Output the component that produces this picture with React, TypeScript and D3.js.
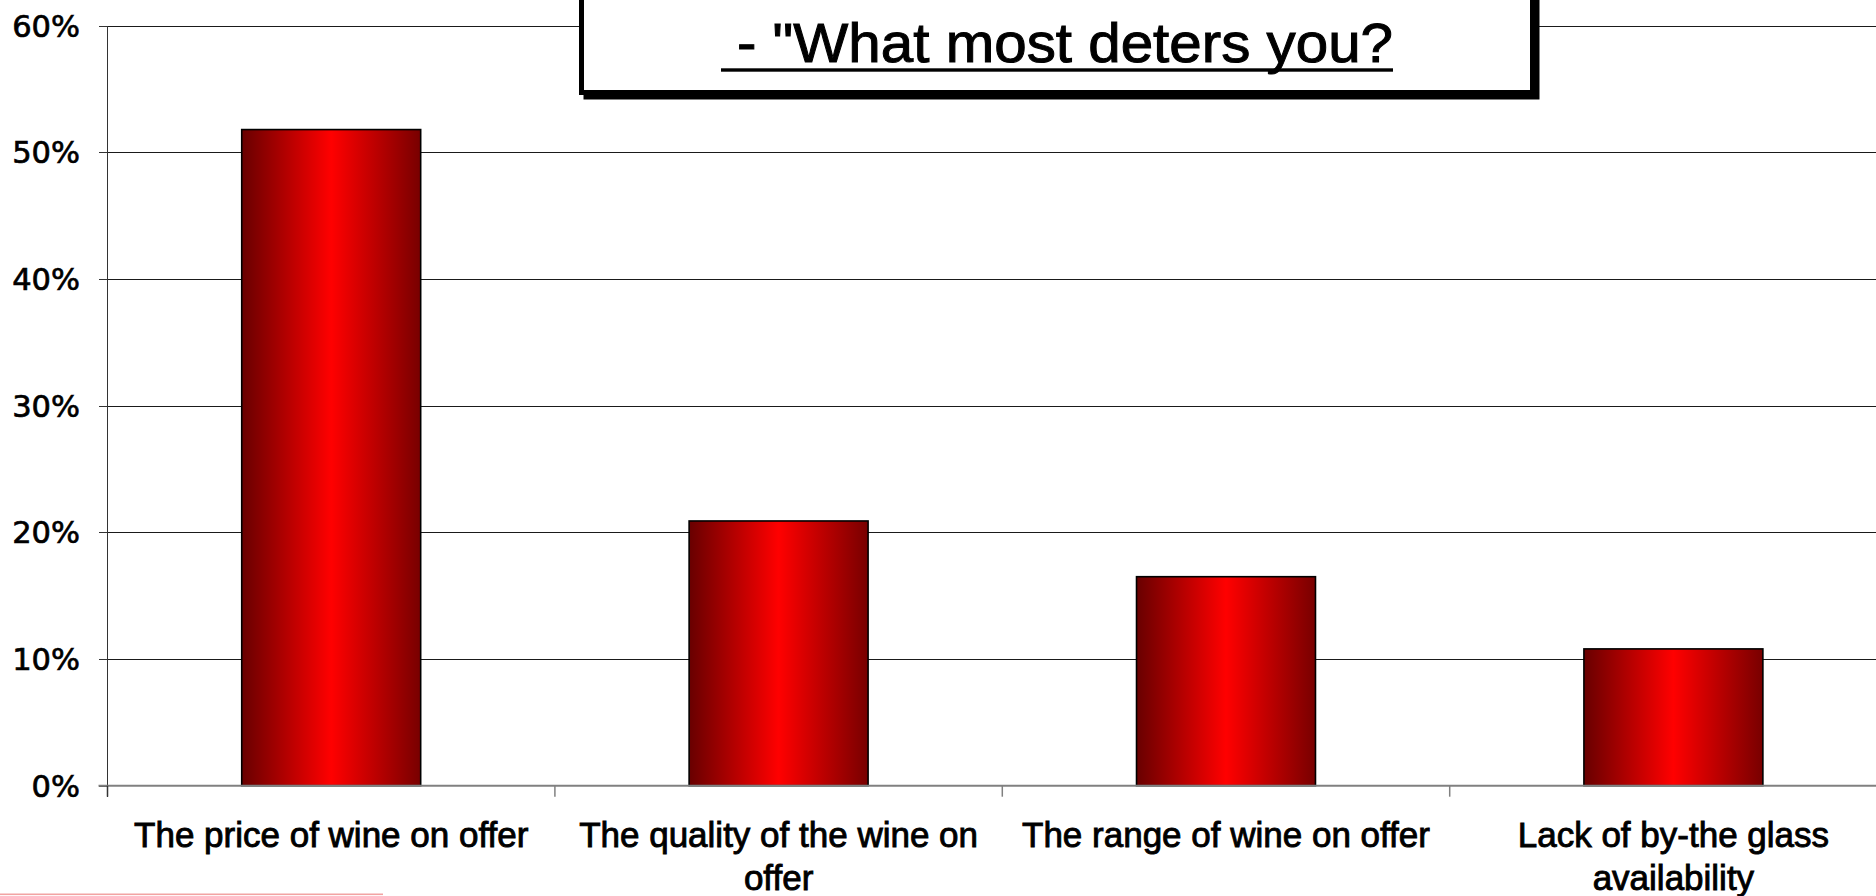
import React, { useEffect } from "react";
import * as d3 from "d3";

// Survey answers: share of respondents naming each deterrent
const categories = [
  "The price of wine on offer",
  "The quality of the wine on offer",
  "The range of wine on offer",
  "Lack of by-the glass availability",
];
const shares = [0.518, 0.209, 0.165, 0.108];
const yTicks = [0, 0.1, 0.2, 0.3, 0.4, 0.5, 0.6];
const titleLine = "- \"What most deters you?";

const W = 1876;
const H = 896;
const FONT = "'Liberation Sans', Arial, Helvetica, sans-serif";
const TICK_FONT = "'DejaVu Sans', Verdana, sans-serif";

const plotLeft = 107.5;
const step = 447.4;
const y0 = 785.7;
const yTop = 25.7;

let measureCtx: CanvasRenderingContext2D | null = null;
function textWidth(s: string, font: string): number {
  if (!measureCtx) measureCtx = document.createElement("canvas").getContext("2d");
  measureCtx!.font = font;
  return measureCtx!.measureText(s).width;
}

function wrap(label: string, maxWidth: number, font: string): string[] {
  const words = label.split(" ");
  const lines: string[] = [];
  let cur = "";
  for (const w of words) {
    const next = cur ? cur + " " + w : w;
    if (cur && textWidth(next, font) > maxWidth) {
      lines.push(cur);
      cur = w;
    } else {
      cur = next;
    }
  }
  if (cur) lines.push(cur);
  return lines;
}

export default function App() {
  useEffect(() => {
    document.body.style.margin = "0";
    document.body.style.overflow = "hidden";
  }, []);

  const x = d3
    .scaleBand<string>()
    .domain(categories)
    .range([plotLeft, plotLeft + step * categories.length])
    .paddingInner(0.6)
    .paddingOuter(0.3);

  const xCat = d3
    .scaleBand<string>()
    .domain(categories)
    .range([plotLeft, plotLeft + step * categories.length])
    .padding(0);

  const y = d3.scaleLinear().domain([0, 0.6]).range([y0, yTop]);
  const pct = d3.format(".0%");
  const snap = (v: number) => Math.round(v) + 0.5;

  const labelFont = `35px ${FONT}`;
  const boundaries = categories.map((c) => xCat(c)!);

  // title box geometry
  const boxL = 581.5;
  const boxR = 1532.5;
  const boxB = 92.5;
  const shadow = 4.5;

  return (
    <svg
      width={W}
      height={H}
      style={{ position: "absolute", left: 0, top: 0, background: "#fff" }}
    >
      <defs>
        <linearGradient id="barFill" x1="0" x2="1" y1="0" y2="0">
          <stop offset="0" stopColor="#680000" />
          <stop offset="0.5" stopColor="#ff0000" />
          <stop offset="1" stopColor="#780000" />
        </linearGradient>
      </defs>
      <rect x={0} y={0} width={W} height={H} fill="#fff" />

      {/* horizontal gridlines */}
      {yTicks
        .filter((t) => t > 0)
        .map((t) => (
          <line
            key={"g" + t}
            x1={plotLeft}
            x2={W}
            y1={snap(y(t))}
            y2={snap(y(t))}
            stroke="#1a1a1a"
            strokeWidth={1}
            shapeRendering="crispEdges"
          />
        ))}

      {/* value axis */}
      <line
        x1={plotLeft}
        x2={plotLeft}
        y1={snap(yTop)}
        y2={y0 + 11}
        stroke="#333"
        strokeWidth={1}
        shapeRendering="crispEdges"
      />
      {yTicks.map((t) => (
        <g key={"t" + t}>
          <line
            x1={plotLeft - 9}
            x2={plotLeft}
            y1={snap(y(t))}
            y2={snap(y(t))}
            stroke="#333"
            strokeWidth={1}
            shapeRendering="crispEdges"
          />
          <text
            x={80}
            y={y(t) + 11}
            textAnchor="end"
            fontFamily={TICK_FONT}
            fontSize={30.5}
            fill="#000"
            stroke="#000"
            strokeWidth={0.7}
          >
            {pct(t)}
          </text>
        </g>
      ))}

      {/* bars */}
      {categories.map((c, i) => (
        <rect
          key={"b" + c}
          x={x(c)!}
          y={y(shares[i])}
          width={x.bandwidth()}
          height={y(0) - y(shares[i])}
          fill="url(#barFill)"
          stroke="#000"
          strokeWidth={1.6}
        />
      ))}

      {/* category axis */}
      <line x1={plotLeft - 9} x2={W} y1={y0} y2={y0} stroke="#808080" strokeWidth={2} />
      {boundaries.map((bx, i) => (
        <line
          key={"xt" + i}
          x1={bx}
          x2={bx}
          y1={y0}
          y2={y0 + 11}
          stroke={i === 0 ? "#333" : "#808080"}
          strokeWidth={1.5}
        />
      ))}
      {categories.map((c) => {
        const lines = wrap(c, step - 10, labelFont);
        const cx = xCat(c)! + xCat.bandwidth() / 2;
        return (
          <text
            key={"l" + c}
            textAnchor="middle"
            fontFamily={FONT}
            fontSize={35}
            fill="#000"
            stroke="#000"
            strokeWidth={0.9}
          >
            {lines.map((ln, k) => (
              <tspan key={k} x={cx} y={847 + k * 42.5}>
                {ln}
              </tspan>
            ))}
          </text>
        );
      })}

      {/* title box with drop shadow */}
      <rect
        x={boxL + shadow}
        y={-30 + shadow}
        width={boxR - boxL}
        height={boxB + 30}
        fill="#000"
        stroke="#000"
        strokeWidth={5}
      />
      <rect
        x={boxL}
        y={-30}
        width={boxR - boxL}
        height={boxB + 30}
        fill="#fff"
        stroke="#000"
        strokeWidth={5}
      />
      <text
        x={737}
        y={62}
        fontFamily={FONT}
        fontSize={56}
        fill="#000"
        stroke="#000"
        strokeWidth={1}
        textLength={656}
        lengthAdjust="spacingAndGlyphs"
      >
        {titleLine}
      </text>
      <rect x={721} y={68.3} width={672} height={3.4} fill="#000" />

      {/* thin accent rule at the foot of the page */}
      <rect x={0} y={893.5} width={383} height={1.6} fill="#f2a3a3" />
    </svg>
  );
}
